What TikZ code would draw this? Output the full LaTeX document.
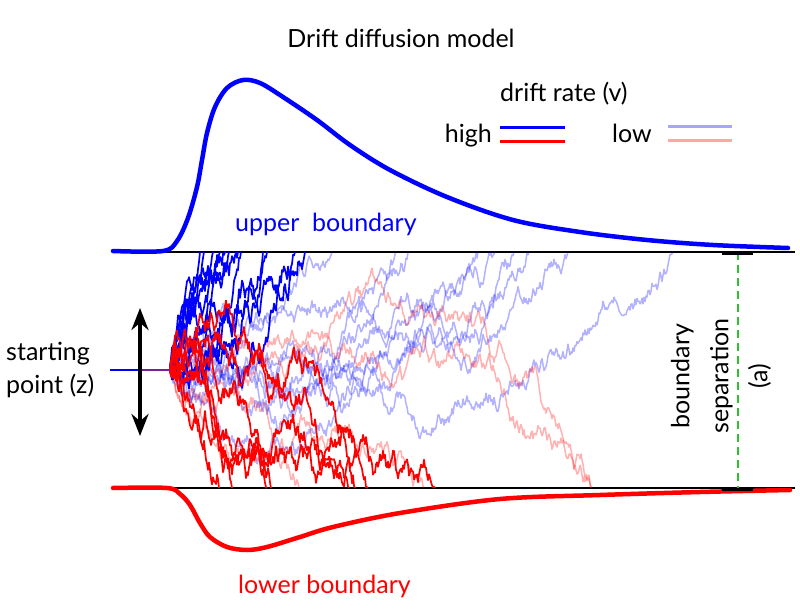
\documentclass[tikz,border=0pt]{standalone}
\usepackage{fontspec}
\setmainfont{Lato}
\usetikzlibrary{arrows.meta,positioning,calc}
\definecolor{ddblue}{HTML}{0000FF}
\definecolor{ddred}{HTML}{FF0000}
\definecolor{ddgreen}{HTML}{2DC22D}
\definecolor{ddpurple}{HTML}{7A1E9E}

% one random walk from the starting point until it meets a boundary
\newcommand\ddmwalk[4]{%
  \pgfmathsetseed{#3}%
  \def\wx{170}\def\wy{370}%
  \def\wpath{(170,370)}%
  \loop
    \pgfmathsetmacro\wx{\wx+1}%
    \pgfmathsetmacro\wy{max(252,min(488,\wy+#2*(1+((\wx-170)/200)^2)+#4*rand))}%
    \edef\wpath{\wpath -- (\wx,\wy)}%
    \pgfmathtruncatemacro\wgo{(\wy>252)*(\wy<488)*(\wx<760)}%
  \ifnum\wgo=1 \repeat
  \def\wdraw{\draw[#1]}%
  \expandafter\wdraw\wpath;%
}

\begin{document}
\begin{tikzpicture}[x=1pt,y=-1pt,
  txt/.style={font=\fontsize{25}{30}\selectfont,inner sep=0pt},
  boundline/.style={draw=black,line width=2.2pt},
  density/.style={line width=4.5pt,line cap=round,line join=round},
  highblue/.style={ddblue,line width=1.7pt,line join=round},
  highred/.style={ddred,line width=1.7pt,line join=round},
  lowblue/.style={ddblue,opacity=0.3,line width=1.5pt,line join=round},
  lowred/.style={ddred,opacity=0.3,line width=1.5pt,line join=round},
  legline/.style={line width=3pt},
  zarrow/.style={{Stealth[length=22pt,width=17pt]}-{Stealth[length=22pt,width=17pt]},line width=4pt},
  sepline/.style={ddgreen,line width=1.6pt,dash pattern=on 8pt off 5pt},
  septick/.style={draw=black,line width=3.5pt}
]
\useasboundingbox (0,0) rectangle (800,612);

\node[txt] (title) at (401,38) {Drift diffusion model};

% legend
\node[txt,anchor=base west] (rate) at (500,102) {drift rate (v)};
\node[txt,anchor=base east] (high) at (492,143) {high};
\node[txt,anchor=base west] (low) at (612,143) {low};
\draw[legline,ddblue] (500,128) -- (565,128);
\draw[legline,ddred] (500,142) -- (565,142);
\draw[legline,ddblue,opacity=0.35] (668,127) -- (732,127);
\draw[legline,ddred,opacity=0.35] (668,141) -- (732,141);

% boundaries
\coordinate (ul) at (113,252);
\coordinate (ur) at (795,252);
\coordinate (ll) at (113,488);
\coordinate (lr) at (795,488);
\draw[boundline] (ul) -- (ur);
\draw[boundline] (ll) -- (lr);

% response time densities
\draw[density,ddblue] plot[smooth,tension=0.55] coordinates {
  (113,251) (163,251) (177,241) (188,218) (197,187) (202,160) (207,133)
  (215,107) (227,88) (243,80) (260,83) (283,97) (317,120) (350,145)
  (390,170) (447,197) (513,220) (580,232) (647,240) (713,245) (788,248)};
\draw[density,ddred] plot[smooth,tension=0.55] coordinates {
  (113,488) (167,488) (180,494) (190,505) (200,523) (210,537) (227,547)
  (247,550) (267,547) (300,537) (333,527) (400,513) (500,499) (600,495)
  (700,492) (790,490)};

\node[txt,text=ddblue,anchor=base west] (upper) at (235,232) {upper\hspace{0.25em} boundary};
\node[txt,text=ddred,anchor=base west] (lower) at (238,593) {lower boundary};

% sample paths
\foreach \s in {31,32,33,34,35,36,37,38,39} {\ddmwalk{lowblue}{-0.2}{\s}{7}}
\foreach \s in {41,42,43,44} {\ddmwalk{lowred}{0.2}{\s}{7}}
\foreach \s in {1,2,3,4,5,6,7,8,9,10,11,12} {\ddmwalk{highblue}{-1.8}{\s}{11}}
\foreach \s in {21,22,23,24,25,26,27,28} {\ddmwalk{highred}{0.6}{\s}{10}}

% starting point
\coordinate (zleft) at (110,370);
\coordinate (zaxis) at (140,370);
\coordinate (zstart) at (170,370);
\draw[ddblue,line width=1.3pt] (zleft) -- (zaxis);
\draw[ddpurple,line width=1.3pt] (zaxis) -- (zstart);
\coordinate (ztop) at (140,308);
\coordinate (zbot) at (140,436);
\draw[zarrow] (ztop) -- (zbot);
\node[txt,font=\fontsize{25}{33}\selectfont,align=left,anchor=west] (startpt) at (6,370) {starting\\point (z)};

% boundary separation
\coordinate (atop) at (738,252);
\coordinate (abot) at (738,488);
\draw[sepline] (atop) -- (abot);
\draw[septick] ($(atop)+(-16,1.5)$) -- ($(atop)+(15,1.5)$);
\draw[septick] ($(abot)+(-16,1.5)$) -- ($(abot)+(15,1.5)$);
\node[txt,font=\fontsize{25}{39}\selectfont,align=center,rotate=90] (asep) at (721,376) {boundary\\separation\\(a)};
\end{tikzpicture}
\end{document}
